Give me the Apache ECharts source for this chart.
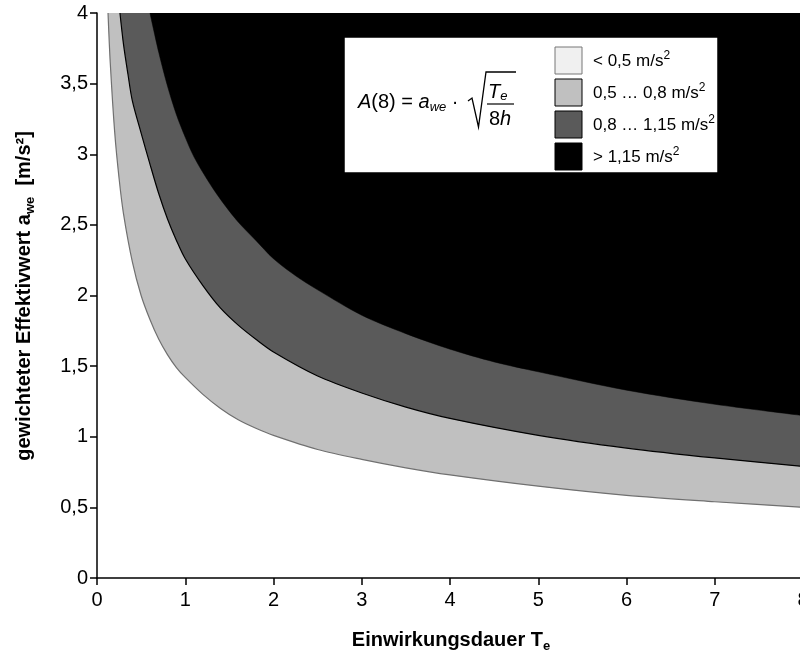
<!DOCTYPE html>
<html>
<head>
<meta charset="utf-8">
<script src="https://cdn.jsdelivr.net/npm/echarts@6/dist/echarts.min.js"></script>
<style>
html,body{margin:0;padding:0;background:#fff;}
#chart{width:800px;height:658px;}
</style>
</head>
<body>
<div id="chart"></div>
<script>
// Exposure time T_e [h] and weighted acceleration a_we [m/s²]
const T05 = [0.125, 0.15, 0.2, 0.25, 0.3, 0.4, 0.5, 0.6, 0.7, 0.8, 0.9, 1.0, 1.2, 1.4, 1.6, 1.8, 2.0, 2.5, 3.0, 3.5, 4, 5, 6, 7, 8];
const A05 = [4.0, 3.65, 3.16, 2.83, 2.58, 2.24, 2.0, 1.83, 1.69, 1.58, 1.49, 1.42, 1.30, 1.20, 1.12, 1.06, 1.01, 0.91, 0.84, 0.78, 0.73, 0.65, 0.585, 0.54, 0.50];
const T08 = [0.26, 0.3, 0.35, 0.4, 0.5, 0.6, 0.7, 0.8, 0.9, 1.0, 1.2, 1.4, 1.6, 1.8, 2.0, 2.5, 3.0, 3.5, 4, 5, 6, 7, 8];
const A08 = [4.0, 3.78, 3.57, 3.38, 3.15, 2.93, 2.72, 2.54, 2.39, 2.26, 2.07, 1.91, 1.79, 1.69, 1.60, 1.43, 1.31, 1.21, 1.13, 1.01, 0.92, 0.85, 0.79];
const T115 = [0.6, 0.7, 0.8, 0.9, 1.0, 1.1, 1.25, 1.4, 1.6, 1.8, 2.0, 2.25, 2.5, 3.0, 3.5, 4, 4.5, 5, 6, 7, 8];
const A115 = [4.0, 3.72, 3.48, 3.28, 3.12, 2.98, 2.82, 2.68, 2.52, 2.39, 2.26, 2.14, 2.04, 1.86, 1.73, 1.62, 1.53, 1.46, 1.33, 1.23, 1.15];

const legendMain = ['< 0,5 m/s', '0,5 … 0,8 m/s', '0,8 … 1,15 m/s', '> 1,15 m/s'];
const legendSup = ['2', '2', '2', '2'];
const zoneColors = ['#f0f0f0', '#c0c0c0', '#5a5a5a', '#000000'];

const FONT = '"Liberation Sans", Arial, Helvetica, sans-serif';
const pairs = (xs, ys) => xs.map((x, i) => [x, ys[i]]);

const chart = echarts.init(document.getElementById('chart'), null, {renderer: 'canvas'});

const g = [];
g.push({
  type: 'rect', z: 100,
  shape: {x: 344, y: 37, width: 374, height: 136},
  style: {fill: '#ffffff', stroke: '#000', lineWidth: 1.5}
});
legendMain.forEach((lab, i) => {
  const y = 47 + i * 32;
  g.push({
    type: 'rect', z: 101,
    shape: {x: 555, y: y, width: 27, height: 27},
    style: {fill: zoneColors[i], stroke: i === 0 ? '#777' : '#000', lineWidth: 1}
  });
  g.push({
    type: 'text', z: 101, x: 593, y: y + 14,
    style: {
      text: '{n|' + lab + '}{p|' + legendSup[i] + '}',
      verticalAlign: 'middle', align: 'left',
      rich: {
        n: {font: '17px ' + FONT, fill: '#000', lineHeight: 22},
        p: {font: '12px ' + FONT, fill: '#000', lineHeight: 12, verticalAlign: 'top'}
      }
    }
  });
});
// formula A(8) = a_we · sqrt(T_e / 8h)
g.push({
  type: 'text', z: 101, x: 358, y: 102,
  style: {
    text: '{i|A}{n|(8) = }{i|a}{s|we}{n| · }',
    verticalAlign: 'middle', align: 'left',
    rich: {
      i: {font: 'italic 20px ' + FONT, fill: '#000', lineHeight: 24},
      n: {font: '20px ' + FONT, fill: '#000', lineHeight: 24},
      s: {font: 'italic 13px ' + FONT, fill: '#000', lineHeight: 13, verticalAlign: 'bottom'}
    }
  }
});
g.push({
  type: 'polyline', z: 101,
  shape: {points: [[468, 101], [472, 98], [478.5, 127], [486, 72], [516, 72]]},
  style: {stroke: '#000', lineWidth: 1.3, fill: null}
});
g.push({
  type: 'text', z: 101, x: 488, y: 92,
  style: {
    text: '{i|T}{s|e}', verticalAlign: 'middle', align: 'left',
    rich: {
      i: {font: 'italic 20px ' + FONT, fill: '#000', lineHeight: 22},
      s: {font: 'italic 13px ' + FONT, fill: '#000', lineHeight: 13, verticalAlign: 'bottom'}
    }
  }
});
g.push({
  type: 'line', z: 101,
  shape: {x1: 487, y1: 104, x2: 514, y2: 104},
  style: {stroke: '#000', lineWidth: 1.2}
});
g.push({
  type: 'text', z: 101, x: 489, y: 119,
  style: {
    text: '{n|8}{i|h}', verticalAlign: 'middle', align: 'left',
    rich: {
      i: {font: 'italic 20px ' + FONT, fill: '#000'},
      n: {font: '20px ' + FONT, fill: '#000'}
    }
  }
});
// axis titles
g.push({
  type: 'text', z: 50, x: 24, y: 296, rotation: Math.PI / 2,
  style: {
    text: '{b|gewichteter Effektivwert a}{s|we}{b|  [m/s²]}',
    align: 'center', verticalAlign: 'middle',
    rich: {
      b: {font: 'bold 20px ' + FONT, fill: '#000', lineHeight: 26},
      s: {font: 'bold 13px ' + FONT, fill: '#000', lineHeight: 14, verticalAlign: 'bottom'}
    }
  }
});
g.push({
  type: 'text', z: 50, x: 451, y: 640,
  style: {
    text: '{b|Einwirkungsdauer T}{s|e}',
    align: 'center', verticalAlign: 'middle',
    rich: {
      b: {font: 'bold 20px ' + FONT, fill: '#000', lineHeight: 26},
      s: {font: 'bold 13px ' + FONT, fill: '#000', lineHeight: 14, verticalAlign: 'bottom'}
    }
  }
});

const option = {
  animation: false,
  backgroundColor: '#ffffff',
  grid: {left: 97, top: 13, width: 706, height: 565, show: false, containLabel: false, outerBoundsMode: 'none'},
  xAxis: {
    type: 'value', min: 0, max: 8, interval: 1,
    axisLine: {show: true, onZero: false, lineStyle: {color: '#000', width: 1.5}},
    axisTick: {show: true, inside: false, length: 7, lineStyle: {color: '#000', width: 1.5}},
    axisLabel: {color: '#000', fontSize: 20, fontFamily: FONT, margin: 12, showMaxLabel: true, hideOverlap: false},
    splitLine: {show: false}
  },
  yAxis: {
    type: 'value', min: 0, max: 4, interval: 0.5,
    axisLine: {show: true, lineStyle: {color: '#000', width: 1.5}},
    axisTick: {show: true, inside: false, length: 7, lineStyle: {color: '#000', width: 1.5}},
    axisLabel: {color: '#000', fontSize: 20, fontFamily: FONT, margin: 9,
      formatter: v => String(v).replace('.', ',')},
    splitLine: {show: false}
  },
  series: [
    {
      type: 'line', data: pairs(T05, A05), smooth: 0.3,
      symbol: 'none', clip: true,
      lineStyle: {color: '#707070', width: 1.2},
      areaStyle: {color: zoneColors[1], origin: 'end', opacity: 1},
      z: 2
    },
    {
      type: 'line', data: pairs(T08, A08), smooth: 0.3,
      symbol: 'none', clip: true,
      lineStyle: {color: '#000', width: 1.2},
      areaStyle: {color: zoneColors[2], origin: 'end', opacity: 1},
      z: 3
    },
    {
      type: 'line', data: pairs(T115, A115), smooth: 0.3,
      symbol: 'none', clip: true,
      lineStyle: {color: '#000', width: 0.5},
      areaStyle: {color: zoneColors[3], origin: 'end', opacity: 1},
      z: 4
    }
  ],
  graphic: g
};
chart.setOption(option);
</script>
</body>
</html>
